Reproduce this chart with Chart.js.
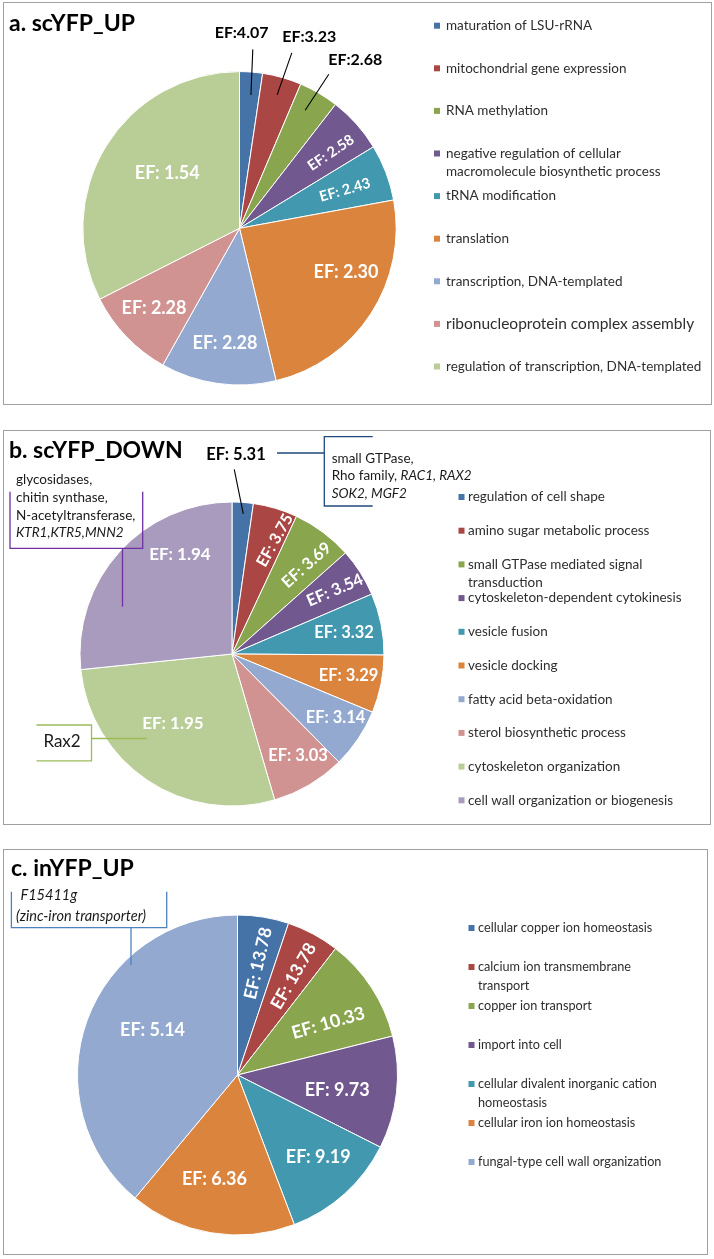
<!DOCTYPE html>
<html><head><meta charset="utf-8">
<script src="https://cdn.jsdelivr.net/npm/chart.js@4.4.1/dist/chart.umd.min.js"></script>
<style>
html,body{margin:0;padding:0;background:#fff;}
body{width:714px;height:1259px;position:relative;overflow:hidden;font-family:Lato,sans-serif;}
.frame{position:absolute;border:1.5px solid #a0a0a0;box-sizing:border-box;}
canvas{position:absolute;left:0;}
</style></head><body>
<div class="frame" style="left:3px;top:2px;width:709px;height:403px"></div>
<div class="frame" style="left:3px;top:430px;width:708px;height:395px"></div>
<div class="frame" style="left:3px;top:849px;width:705px;height:406px"></div>
<canvas id="ca" width="714" height="415" style="top:0px"></canvas>
<canvas id="cb" width="714" height="415" style="top:418px"></canvas>
<canvas id="cc" width="714" height="419" style="top:840px"></canvas>
<script>
// ---------- DATA ----------
const palette = ['#4572A7','#AA4643','#89A54E','#71588F','#4198AF','#DB843D','#93A9CF','#D19392','#B9CD96','#A99BBD'];

const titleA = 'a. scYFP_UP';
const categoriesA = ['maturation of LSU-rRNA','mitochondrial gene expression','RNA methylation',
  'negative regulation of cellular\nmacromolecule biosynthetic process','tRNA modification','translation',
  'transcription, DNA-templated','ribonucleoprotein complex assembly','regulation of transcription, DNA-templated'];
const sharesA = [8.5, 14.5, 14.8, 20.9, 20.9, 86.9, 42.8, 33.8, 116.9];
const efA = [4.07, 3.23, 2.68, 2.58, 2.43, 2.30, 2.28, 2.28, 1.54];

const titleB = 'b. scYFP_DOWN';
const categoriesB = ['regulation of cell shape','amino sugar metabolic process','small GTPase mediated signal\ntransduction',
  'cytoskeleton-dependent cytokinesis','vesicle fusion','vesicle docking','fatty acid beta-oxidation',
  'sterol biosynthetic process','cytoskeleton organization','cell wall organization or biogenesis'];
const sharesB = [8.1, 17.0, 23.2, 18.5, 23.6, 22.1, 22.8, 28.4, 100.4, 95.9];
const efB = [5.31, 3.75, 3.69, 3.54, 3.32, 3.29, 3.14, 3.03, 1.95, 1.94];

const titleC = 'c. inYFP_UP';
const categoriesC = ['cellular copper ion homeostasis','calcium ion transmembrane\ntransport','copper ion transport',
  'import into cell','cellular divalent inorganic cation\nhomeostasis','cellular iron ion homeostasis','fungal-type cell wall organization'];
const sharesC = [18.6, 19.2, 38.1, 40.9, 42.4, 60.6, 140.2];
const efC = [13.78, 13.78, 10.33, 9.73, 9.19, 6.36, 5.14];

// callout texts (segments: [text, italic])
const noteB1 = [[['small GTPase,',0]],[['Rho family, ',0],['RAC1, RAX2',1]],[['SOK2, MGF2',1]]];
const noteB2 = [[['glycosidases,',0]],[['chitin synthase,',0]],[['N-acetyltransferase,',0]],[['KTR1,KTR5,MNN2',1]]];
const noteB3 = [[['Rax2',0]]];
const noteC1 = [[['F15411g',1]],[['(zinc-iron transporter)',1]]];

// ---------- LAYOUT / STYLE ----------
const FONT = 'Lato, "Open Sans", sans-serif';
const layoutA = {
  top: 0, cx: 239.5, cy: 228.3, R: 156.7, title: {x: 9, y: 24},
  legend: {mx: 434, tx: 446, y0: 25.7, step: 42.6, lh: 18.4, size: 13.5, big: {7: 15.5}},
  labels: [
    {out:1, sep:'', r0:.854, r1:1.145, da0:.65, da1:0, dx:-11.2, dy:-16.3, size:16},
    {out:1, sep:'', r0:.885, r1:1.168, da0:0, da1:.85, dx:17.5, dy:-16, size:16},
    {out:1, sep:'', r0:.862, r1:1.136, da0:-1.3, da1:-.3, dx:26.5, dy:-14, size:16},
    {k:.756, da:2.2, rot:-34, size:14.5},
    {k:.716, da:.9, rot:-16, size:14.5},
    {k:.735, da:-10.7, size:18},
    {k:.738, da:-.7, size:18},
    {k:.747, da:.7, size:18},
    {k:.58, da:5.8, size:18}
  ],
  notes: []
};
const layoutB = {
  top: 418, cx: 232, cy: 654, R: 152, title: {x: 9, y: 451},
  legend: {mx: 458.5, tx: 468, y0: 497, step: 33.7, lh: 18, size: 13.5, big: {}},
  labels: [
    {out:1, sep:' ', r0:.925, r1:1.215, da0:.55, da1:-3.35, dx:1.7, dy:-14.3, size:16.5},
    {k:.80, da:4.1, rot:-60.5, size:16},
    {k:.763, da:3.3, rot:-41.6, size:16.5},
    {k:.796, da:.6, rot:-23, size:16.5},
    {k:.75, da:.7, size:16.5},
    {k:.78, da:-.9, size:16.5},
    {k:.80, da:-2.3, size:16.5},
    {k:.80, da:-2.4, size:16.5},
    {k:.60, da:6.4, size:17},
    {k:.737, da:20.3, size:17}
  ],
  notes: [
    {lines: noteB1, x: 331.7, y0: 458.3, lh: 17.5, size: 13.5, color: '#1F497D',
     paths: [[[277,453],[324.3,453]], [[372.7,436.7],[324.3,436.7],[324.3,506],[372.7,506]]]},
    {lines: noteB2, x: 16, y0: 480, lh: 17.6, size: 13.5, color: '#7030A0',
     paths: [[[10,491.7],[10,548.3],[142.7,548.3],[142.7,491.7]], [[122.5,548.3],[122.5,606.7]]]},
    {lines: noteB3, x: 43.4, y0: 742, lh: 18, size: 17, color: '#9BBB59',
     paths: [[[36.5,725],[91.5,725],[91.5,760.8],[36.5,760.8]], [[91.5,738.5],[147,738.5]]]}
  ]
};
const layoutC = {
  top: 840, cx: 237.5, cy: 1075, R: 160, title: {x: 11, y: 869},
  legend: {mx: 468.5, tx: 478, y0: 928, step: 39, lh: 18.5, size: 12.7, big: {}},
  labels: [
    {k:.71, da:1.2, rot:-77, size:17.5},
    {k:.71, da:1.4, rot:-60, size:17.5},
    {k:.653, da:3.45, rot:-16, size:18},
    {k:.63, da:2.2, size:18},
    {k:.72, da:-2.5, size:18},
    {k:.666, da:3, size:18},
    {k:.60, da:7.9, size:18}
  ],
  notes: [
    {lines: noteC1, x: 19, y0: 895, lh: 21.7, size: 14.5, color: '#4F81BD', xs: [20.5, 16],
     paths: [[[11.4,891.7],[11.4,927.7],[166.7,927.7],[166.7,891.7]], [[131,927.7],[131,965]]]}
  ]
};

// ---------- DRAWING ----------
const D2R = Math.PI / 180;
const overlay = {
  id: 'overlay',
  afterDraw(chart) {
    const P = chart.options.plugins.overlay;
    const L = P.layout, T = L.top;
    const ctx = chart.ctx;
    ctx.save();
    // title
    ctx.fillStyle = '#000';
    ctx.font = 'bold 23px ' + FONT;
    ctx.textAlign = 'left'; ctx.textBaseline = 'middle';
    ctx.fillText(P.title, L.title.x, L.title.y - T);
    // legend
    const lg = L.legend;
    P.categories.forEach((c, i) => {
      const y = lg.y0 + i * lg.step - T;
      ctx.fillStyle = palette[i];
      ctx.fillRect(lg.mx, y - 3, 6, 6);
      ctx.fillStyle = '#2e2e2e';
      ctx.font = (lg.big[i] || lg.size) + 'px ' + FONT;
      c.split('\n').forEach((ln, j) => ctx.fillText(ln, lg.tx, y + j * lg.lh));
    });
    // slice labels
    const meta = chart.getDatasetMeta(0);
    meta.data.forEach((arc, i) => {
      const p = arc.getProps(['x','y','startAngle','endAngle','outerRadius'], true);
      const s = L.labels[i];
      const mid = (p.startAngle + p.endAngle) / 2;
      const txt = 'EF:' + (s.sep !== undefined ? s.sep : ' ') + P.values[i].toFixed(2);
      if (s.out) {
        const a0 = mid + s.da0 * D2R, a1 = mid + s.da1 * D2R;
        const x0 = p.x + Math.cos(a0) * p.outerRadius * s.r0, y0 = p.y + Math.sin(a0) * p.outerRadius * s.r0;
        const x1 = p.x + Math.cos(a1) * p.outerRadius * s.r1, y1 = p.y + Math.sin(a1) * p.outerRadius * s.r1;
        ctx.strokeStyle = '#000'; ctx.lineWidth = 1.1;
        ctx.beginPath(); ctx.moveTo(x0, y0); ctx.lineTo(x1, y1); ctx.stroke();
        ctx.fillStyle = '#000'; ctx.font = 'bold ' + s.size + 'px ' + FONT;
        ctx.textAlign = 'center'; ctx.textBaseline = 'middle';
        ctx.fillText(txt, x1 + s.dx, y1 + s.dy);
      } else {
        const a = mid + (s.da || 0) * D2R;
        const x = p.x + Math.cos(a) * p.outerRadius * s.k, y = p.y + Math.sin(a) * p.outerRadius * s.k;
        ctx.save();
        ctx.translate(x, y); ctx.rotate((s.rot || 0) * D2R);
        ctx.fillStyle = '#fff'; ctx.font = 'bold ' + s.size + 'px ' + FONT;
        ctx.textAlign = 'center'; ctx.textBaseline = 'middle';
        ctx.fillText(txt, 0, 0);
        ctx.restore();
      }
    });
    // callouts
    L.notes.forEach(n => {
      ctx.strokeStyle = n.color; ctx.lineWidth = 1.3;
      n.paths.forEach(path => {
        ctx.beginPath();
        path.forEach((pt, k) => k ? ctx.lineTo(pt[0], pt[1] - T) : ctx.moveTo(pt[0], pt[1] - T));
        ctx.stroke();
      });
      ctx.fillStyle = '#1a1a1a'; ctx.textAlign = 'left'; ctx.textBaseline = 'middle';
      n.lines.forEach((segs, j) => {
        let x = n.xs ? n.xs[j] : n.x;
        const y = n.y0 + j * n.lh - T;
        segs.forEach(([t, it]) => {
          ctx.font = (it ? 'italic ' : '') + n.size + 'px ' + FONT;
          ctx.fillText(t, x, y);
          x += ctx.measureText(t).width;
        });
      });
    });
    ctx.restore();
  }
};

function makePie(id, title, cats, shares, values, L) {
  const W = 714, H = document.getElementById(id).height;
  const cy = L.cy - L.top, m = 2;
  new Chart(document.getElementById(id), {
    type: 'pie',
    data: {
      labels: cats,
      datasets: [{ data: shares, backgroundColor: palette.slice(0, shares.length),
        borderColor: '#ffffff', borderWidth: 1, radius: L.R }]
    },
    options: {
      responsive: false, animation: false, events: [], radius: L.R,
      layout: { padding: { left: L.cx - L.R - m, right: W - (L.cx + L.R + m), top: cy - L.R - m, bottom: H - (cy + L.R + m) } },
      plugins: { legend: { display: false }, tooltip: { enabled: false },
        overlay: { layout: L, title: title, categories: cats, values: values } }
    },
    plugins: [overlay]
  });
}
makePie('ca', titleA, categoriesA, sharesA, efA, layoutA);
makePie('cb', titleB, categoriesB, sharesB, efB, layoutB);
makePie('cc', titleC, categoriesC, sharesC, efC, layoutC);
</script>
</body></html>
